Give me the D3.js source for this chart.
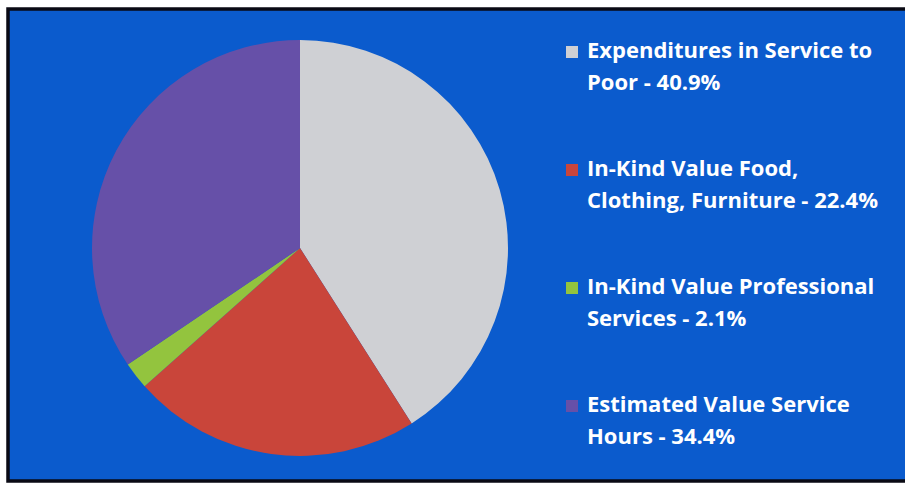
<!DOCTYPE html>
<html>
<head>
<meta charset="utf-8">
<script src="https://cdn.jsdelivr.net/npm/d3@7"></script>
<style>
  body { margin: 0; background: #fff; }
  svg { display: block; }
</style>
</head>
<body>
<svg id="chart" width="905" height="485"></svg>
<script>
// chart data (category names split where the legend wraps them)
var categories = [["Expenditures in Service to", "Poor"],
                  ["In-Kind Value Food,", "Clothing, Furniture"],
                  ["In-Kind Value Professional", "Services"],
                  ["Estimated Value Service", "Hours"]];
var shares = [40.9, 22.4, 2.1, 34.4];
var colors = ["#cfd0d4", "#c9453a", "#93c43e", "#6650a8"];

function pie_chart(svg_id){
    var svg = d3.select("#" + svg_id);

    // panel
    svg.append("rect")
        .attr("x", 8).attr("y", 9)
        .attr("width", 910).attr("height", 472)
        .attr("fill", "#0b5bcd")
        .attr("stroke", "#0a0a14").attr("stroke-width", 3.5);

    var data = categories.map((c, i) => ({lines: c, value: shares[i], color: colors[i]}));

    var cx = 300, cy = 248, r = 208;
    var pie = d3.pie().sort(null).value(d => d.value);
    var arc = d3.arc().innerRadius(0).outerRadius(r);

    svg.append("g")
        .attr("transform", `translate(${cx},${cy})`)
        .selectAll("path")
        .data(pie(data))
        .enter().append("path")
        .attr("d", arc)
        .attr("fill", d => d.data.color);

    // legend
    var legX = 566, firstBase = 58, step = 118, lineH = 32;
    var legend = svg.append("g").attr("class", "legend");

    data.forEach(function(d, i){
        var base = firstBase + i * step;
        legend.append("rect")
            .attr("x", legX).attr("y", base - 12)
            .attr("width", 12).attr("height", 12)
            .attr("fill", d.color);

        var text = legend.append("text")
            .style("font-family", "'Open Sans', sans-serif")
            .style("font-weight", "bold")
            .style("font-size", "22px")
            .attr("fill", "#ffffff");

        var lines = d.lines.slice();
        lines[lines.length - 1] += " - " + d.value + "%";
        lines.forEach(function(t, k){
            text.append("tspan")
                .attr("x", legX + 21)
                .attr("y", base + k * lineH)
                .text(t);
        });
    });
}

pie_chart("chart");
</script>
</body>
</html>
